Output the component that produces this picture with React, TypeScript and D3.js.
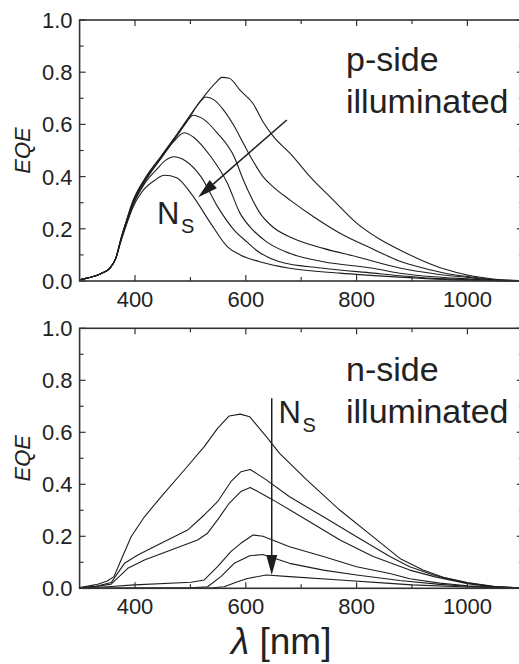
import * as d3 from 'd3'

// EQE spectra, six values of N_S each panel (largest first)
const xTicks = [400, 600, 800, 1000]
const xMinorTicks = [500, 700, 900]
const yTicks = [0, 0.2, 0.4, 0.6, 0.8, 1.0]
const yMinorTicks = [0.1, 0.3, 0.5, 0.7, 0.9]

type Pt = [number, number]

const pSide1: Pt[] = [[300,0.005],[320,0.014],[340,0.03],[355,0.05],[365,0.085],[375,0.165],[385,0.235],[395,0.3],[417,0.39],[447,0.478],[477,0.566],[507,0.658],[530,0.722],[545,0.758],[557,0.78],[570,0.777],[590,0.73],[613,0.68],[631,0.61],[650,0.553],[680,0.489],[720,0.39],[758,0.31],[800,0.222],[842,0.16],[878,0.119],[920,0.077],[960,0.045],[1000,0.023],[1050,0.007],[1100,0.001]]
const pSide2: Pt[] = [[300,0.005],[320,0.014],[340,0.03],[355,0.05],[365,0.085],[375,0.165],[385,0.233],[395,0.297],[417,0.387],[447,0.476],[477,0.564],[500,0.632],[515,0.68],[528,0.705],[542,0.695],[560,0.655],[580,0.59],[595,0.53],[613,0.46],[631,0.4],[650,0.36],[680,0.31],[721,0.248],[770,0.183],[830,0.122],[878,0.076],[920,0.05],[960,0.03],[1000,0.017],[1050,0.005],[1100,0.001]]
const pSide3: Pt[] = [[300,0.005],[320,0.014],[340,0.03],[355,0.05],[365,0.085],[375,0.163],[385,0.23],[395,0.293],[417,0.383],[447,0.472],[477,0.56],[492,0.605],[505,0.635],[520,0.625],[549,0.566],[579,0.476],[595,0.39],[610,0.32],[625,0.262],[650,0.205],[685,0.164],[740,0.125],[800,0.093],[878,0.05],[940,0.028],[1000,0.014],[1050,0.004],[1100,0.001]]
const pSide4: Pt[] = [[300,0.005],[320,0.014],[340,0.03],[355,0.05],[365,0.085],[375,0.16],[385,0.226],[395,0.288],[417,0.378],[447,0.47],[470,0.535],[489,0.568],[505,0.552],[537,0.476],[567,0.374],[589,0.262],[613,0.195],[637,0.151],[679,0.106],[740,0.074],[830,0.049],[878,0.03],[940,0.016],[1000,0.008],[1050,0.002],[1100,0.0]]
const pSide5: Pt[] = [[300,0.005],[320,0.014],[340,0.03],[355,0.05],[365,0.085],[375,0.158],[385,0.222],[395,0.283],[417,0.372],[440,0.43],[455,0.462],[470,0.476],[490,0.462],[519,0.4],[549,0.285],[579,0.195],[603,0.148],[619,0.118],[661,0.074],[740,0.049],[830,0.03],[878,0.02],[940,0.01],[1000,0.005],[1100,0.0]]
const pSide6: Pt[] = [[300,0.005],[320,0.014],[340,0.03],[355,0.05],[365,0.085],[375,0.155],[385,0.218],[395,0.276],[412,0.34],[435,0.385],[453,0.405],[475,0.396],[501,0.336],[537,0.22],[567,0.131],[590,0.1],[625,0.074],[679,0.049],[770,0.03],[878,0.015],[960,0.006],[1100,0.0]]

const nSide1: Pt[] = [[300,0.003],[330,0.014],[350,0.028],[362,0.045],[375,0.11],[393,0.198],[417,0.275],[447,0.352],[489,0.455],[525,0.545],[549,0.615],[570,0.663],[590,0.67],[607,0.66],[637,0.583],[661,0.519],[710,0.417],[770,0.3],[830,0.198],[878,0.115],[920,0.07],[960,0.04],[1000,0.022],[1050,0.007],[1100,0.001]]
const nSide2: Pt[] = [[300,0.002],[330,0.008],[357,0.022],[381,0.096],[405,0.128],[447,0.173],[495,0.224],[525,0.282],[549,0.333],[573,0.41],[591,0.448],[608,0.457],[637,0.417],[679,0.352],[740,0.275],[800,0.198],[860,0.122],[896,0.083],[940,0.05],[1000,0.02],[1050,0.006],[1100,0.001]]
const nSide3: Pt[] = [[300,0.002],[330,0.007],[357,0.016],[387,0.077],[417,0.109],[465,0.147],[513,0.186],[531,0.212],[549,0.263],[570,0.327],[591,0.372],[608,0.388],[649,0.34],[710,0.263],[770,0.186],[830,0.122],[896,0.07],[940,0.045],[1000,0.018],[1050,0.005],[1100,0.001]]
const nSide4: Pt[] = [[300,0.001],[350,0.006],[399,0.013],[501,0.023],[525,0.032],[549,0.083],[573,0.141],[591,0.173],[613,0.205],[631,0.2],[679,0.16],[740,0.122],[800,0.083],[860,0.057],[896,0.037],[950,0.02],[1000,0.01],[1100,0.001]]
const nSide5: Pt[] = [[300,0.0],[500,0.002],[531,0.006],[555,0.045],[579,0.096],[597,0.115],[607,0.125],[631,0.13],[679,0.096],[740,0.07],[800,0.051],[878,0.03],[950,0.015],[1000,0.008],[1100,0.0]]
const nSide6: Pt[] = [[300,0.0],[540,0.002],[561,0.006],[585,0.025],[603,0.038],[637,0.051],[679,0.045],[770,0.032],[860,0.019],[900,0.013],[1000,0.005],[1100,0.0]]

const pSeries = [pSide1, pSide2, pSide3, pSide4, pSide5, pSide6]
const nSeries = [nSide1, nSide2, nSide3, nSide4, nSide5, nSide6]

const W = 519
const H = 664
const X0 = 79.6
const X1 = 522.8
const FONT = '"Liberation Sans", Arial, Helvetica, sans-serif'
const INK = '#1e1e1e'

const x = d3.scaleLinear().domain([300, 1100]).range([X0, X1])

function Arrow({ from, to }: { from: [number, number]; to: [number, number] }) {
  const [x1, y1] = from
  const [x2, y2] = to
  const len = Math.hypot(x2 - x1, y2 - y1)
  const ux = (x2 - x1) / len
  const uy = (y2 - y1) / len
  const hl = 20
  const hw = 5.5
  const bx = x2 - ux * hl
  const by = y2 - uy * hl
  const pts = [[x2, y2], [bx - uy * hw, by + ux * hw], [bx + uy * hw, by - ux * hw]]
  return (
    <g>
      <line x1={x1} y1={y1} x2={bx} y2={by} stroke={INK} strokeWidth={1.5} />
      <polygon points={pts.map((p) => p.join(',')).join(' ')} fill={INK} />
    </g>
  )
}

function Panel({ top, bottom, series, smooth, lines, textY, ns, arrow }: any) {
  const y = d3.scaleLinear().domain([0, 1]).range([bottom, top])
  const line = d3.line<Pt>()
    .x((d) => x(d[0]))
    .y((d) => y(d[1]))
    .curve(smooth ? d3.curveMonotoneX : d3.curveLinear)
  const fmt = d3.format('.1f')

  return (
    <g>
      {/* curves */}
      {series.map((s: Pt[], i: number) => (
        <path key={i} d={line(s) || ''} fill="none" stroke={INK} strokeWidth={1.1} strokeLinejoin="round" />
      ))}

      {/* frame */}
      <rect x={X0} y={top} width={X1 - X0} height={bottom - top} fill="none" stroke="#333" strokeWidth={1.6} />

      {/* x ticks, inward on top and bottom spines */}
      {xTicks.map((t) => (
        <g key={'x' + t}>
          <line x1={x(t)} x2={x(t)} y1={bottom} y2={bottom - 6} stroke="#333" strokeWidth={1.2} />
          <line x1={x(t)} x2={x(t)} y1={top} y2={top + 6} stroke="#333" strokeWidth={1.2} />
          <text x={x(t)} y={bottom + 26} textAnchor="middle" fontSize={22} fontFamily={FONT} fill="#222">{t}</text>
        </g>
      ))}
      {xMinorTicks.map((t) => (
        <g key={'xm' + t}>
          <line x1={x(t)} x2={x(t)} y1={bottom} y2={bottom - 4} stroke="#333" strokeWidth={1.2} />
          <line x1={x(t)} x2={x(t)} y1={top} y2={top + 4} stroke="#333" strokeWidth={1.2} />
        </g>
      ))}

      {/* y ticks, inward on left and right spines */}
      {yTicks.map((t) => (
        <g key={'y' + t}>
          <line x1={X0} x2={X0 + 6} y1={y(t)} y2={y(t)} stroke="#333" strokeWidth={1.2} />
          <line x1={X1} x2={X1 - 6} y1={y(t)} y2={y(t)} stroke="#333" strokeWidth={1.2} />
          <text x={72.5} y={y(t) + 8} textAnchor="end" fontSize={22} fontFamily={FONT} fill="#222">{fmt(t)}</text>
        </g>
      ))}
      {yMinorTicks.map((t) => (
        <g key={'ym' + t}>
          <line x1={X0} x2={X0 + 4} y1={y(t)} y2={y(t)} stroke="#333" strokeWidth={1.2} />
          <line x1={X1} x2={X1 - 4} y1={y(t)} y2={y(t)} stroke="#333" strokeWidth={1.2} />
        </g>
      ))}

      <text transform={`translate(30, ${(top + bottom) / 2}) rotate(-90)`} textAnchor="middle"
        fontSize={22} fontStyle="italic" fontFamily={FONT} fill="#222">EQE</text>

      {/* annotation */}
      <text x={346} y={textY} fontSize={34} fontFamily={FONT} fill="#222">{lines[0]}</text>
      <text x={346} y={textY + 42} fontSize={34} fontFamily={FONT} fill="#222">{lines[1]}</text>
      <text x={ns[0]} y={ns[1]} fontSize={31} fontFamily={FONT} fill="#222">N</text>
      <text x={ns[0] + 24} y={ns[1] + 9} fontSize={20} fontFamily={FONT} fill="#222">S</text>
      <Arrow from={[x(arrow[0][0]), y(arrow[0][1])]} to={[x(arrow[1][0]), y(arrow[1][1])]} />
    </g>
  )
}

export default function App() {
  return (
    <svg width={W} height={H} style={{ position: 'absolute', left: 0, top: 0, background: '#fff' }}>
      <Panel top={20} bottom={281} series={pSeries} smooth lines={['p-side', 'illuminated']} textY={71}
        ns={[157, 224]} arrow={[[674, 0.617], [514, 0.321]]} />
      <Panel top={328.3} bottom={588.3} series={nSeries} smooth={false} lines={['n-side', 'illuminated']} textY={381}
        ns={[278.5, 422.5]} arrow={[[646.8, 0.731], [646.8, 0.051]]} />
      <text x={231} y={654} fontSize={37} fontFamily={FONT} fill="#222">
        <tspan fontStyle="italic">λ</tspan> [nm]
      </text>
    </svg>
  )
}
